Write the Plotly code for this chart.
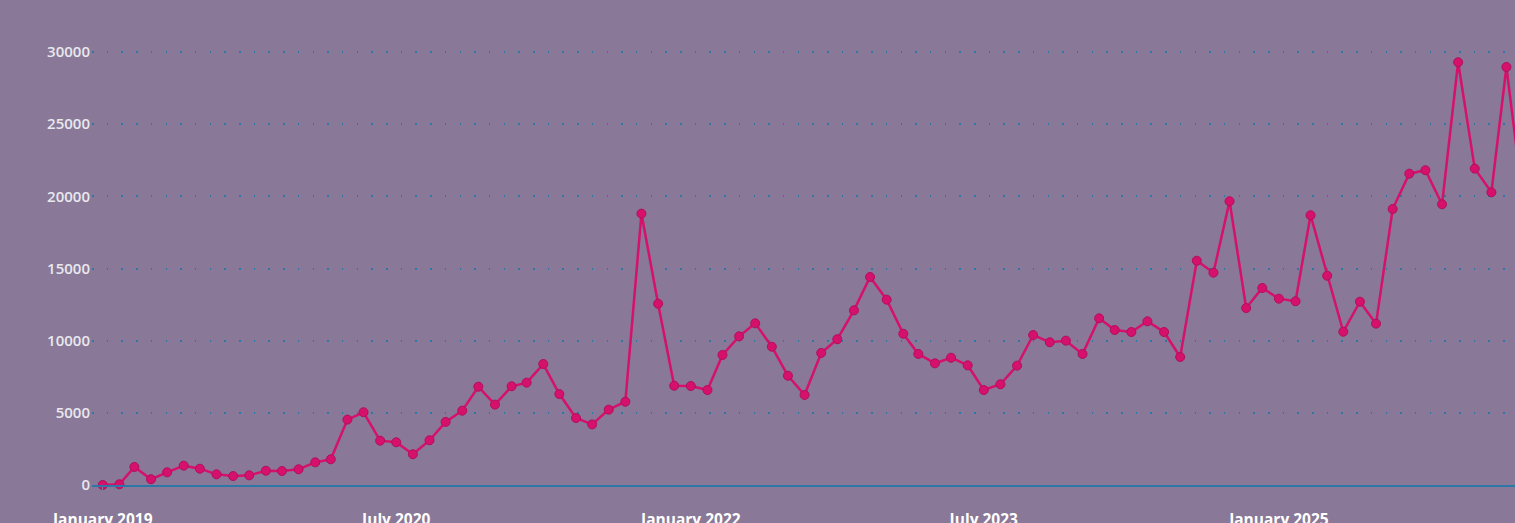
import plotly.graph_objects as go
import pandas as pd

months = pd.date_range("2019-01-01", "2026-04-01", freq="MS")
values = [
    0, 50, 1250, 400, 880, 1340, 1130, 740, 620, 670, 990, 970,          # 2019
    1090, 1570, 1780, 4530, 5040, 3070, 2960, 2130, 3100, 4370, 5150, 6810,  # 2020
    5570, 6840, 7090, 8380, 6300, 4640, 4200, 5220, 5770, 18800, 12560, 6880,  # 2021
    6860, 6580, 9010, 10300, 11200, 9580, 7570, 6240, 9150, 10100, 12100, 14410,  # 2022
    12840, 10480, 9080, 8430, 8820, 8290, 6580, 6980, 8270, 10390, 9890, 10000,  # 2023
    9080, 11550, 10740, 10600, 11340, 10600, 8870, 15540, 14710, 19660, 12260, 13650,  # 2024
    12910, 12730, 18690, 14500, 10620, 12700, 11180, 19120, 21570, 21810, 19450, 29290,  # 2025
    21920, 20280, 28960, 19700,  # 2026
]
tick_vals = ["2019-01-01", "2020-07-01", "2022-01-01", "2023-07-01", "2025-01-01"]
tick_text = ["January 2019", "July 2020", "January 2022", "July 2023", "January 2025"]
y_ticks = [0, 5000, 10000, 15000, 20000, 25000, 30000]

BG = "#897897"
LINE = "#d6116b"
GRID = "#2b78a6"

fig = go.Figure()
fig.add_trace(go.Scatter(
    x=months, y=values, mode="lines+markers",
    line=dict(color=LINE, width=2.5),
    marker=dict(color=LINE, size=9, line=dict(color="#b00f5c", width=1)),
    cliponaxis=False, showlegend=False,
))

fig.update_layout(
    width=1515, height=523,
    paper_bgcolor=BG, plot_bgcolor=BG,
    margin=dict(l=92, r=0, t=0, b=38, autoexpand=False),
    font=dict(family="Open Sans, sans-serif"),
    xaxis=dict(
        type="date", automargin=False,
        range=["2018-12-12", "2026-03-17"],
        tickvals=tick_vals, ticktext=tick_text,
        tickfont=dict(size=15.5, color="#ffffff", weight="bold"),
        ticks="outside", ticklen=19, tickcolor=BG,
        showgrid=False, zeroline=False,
        showline=True, linecolor=GRID, linewidth=2,
    ),
    yaxis=dict(
        range=[0, 33603], automargin=False,
        tickvals=y_ticks, ticktext=[str(v) for v in y_ticks],
        tickfont=dict(size=15, color="#e8e8ee", weight=600),
        ticklabelstandoff=1,
        showgrid=True, gridcolor=GRID, griddash="1.5px,13.2px", gridwidth=1.5,
        zeroline=False, showline=False, ticks="",
    ),
)

fig.write_html(
    "out.html",
    config={"displayModeBar": False},
    post_script="document.body.style.margin='0';document.body.style.padding='0';"
                "document.body.style.overflow='hidden';"
                "document.documentElement.style.background='" + BG + "';",
)
